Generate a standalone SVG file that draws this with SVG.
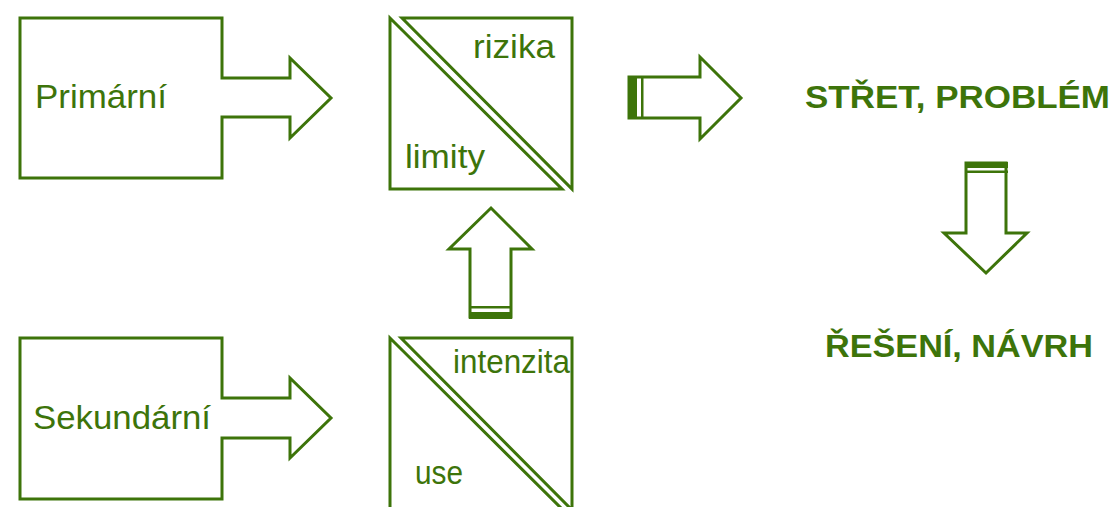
<svg xmlns="http://www.w3.org/2000/svg" width="1116" height="507" viewBox="0 0 1116 507">
<style>
.s{fill:#fff;stroke:#3d740a;stroke-width:3;stroke-linejoin:miter}
.t{font-family:"Liberation Sans",Arial,sans-serif;font-size:34px;fill:#3d740a}
.b{font-family:"Liberation Sans",Arial,sans-serif;font-size:32px;font-weight:bold;fill:#3d740a}
.f{fill:#3d740a}
</style>
<rect width="1116" height="507" fill="#fff"/>
<g id="primarni">
<path class="s" d="M20,18 H222 V78 H290 V58 L331,98 L290,138 V117 H222 V178 H20 Z"/>
<text class="t" x="35" y="108" textLength="132" lengthAdjust="spacingAndGlyphs">Primární</text>
</g>
<g id="sekundarni">
<path class="s" d="M20,338 H222 V398 H290 V378 L331,418 L290,458 V438 H222 V499 H20 Z"/>
<text class="t" x="33" y="429" textLength="178" lengthAdjust="spacingAndGlyphs">Sekundární</text>
</g>
<g id="rizika-limity">
<path class="s" d="M390,18 V189 H562 Z"/>
<path class="s" d="M402,18 H572 V189 Z"/>
<text class="t" x="473" y="58" textLength="82" lengthAdjust="spacingAndGlyphs">rizika</text>
<text class="t" x="405" y="168" textLength="80" lengthAdjust="spacingAndGlyphs">limity</text>
</g>
<g id="intenzita-use">
<path class="s" d="M390,338 V510 H563 Z"/>
<path class="s" d="M401,338 H572 V510 Z"/>
<text class="t" x="453" y="373" textLength="117" lengthAdjust="spacingAndGlyphs">intenzita</text>
<text class="t" x="415" y="484" textLength="48" lengthAdjust="spacingAndGlyphs">use</text>
</g>
<g id="stret">
<text class="b" x="805" y="108" textLength="305" lengthAdjust="spacingAndGlyphs">STŘET, PROBLÉM</text>
</g>
<g id="reseni">
<text class="b" x="825" y="357" textLength="268" lengthAdjust="spacingAndGlyphs">ŘEŠENÍ, NÁVRH</text>
</g>
<g id="connectors">
<g id="arrow-right">
<path class="s" d="M629,77 H700 V57 L741,98 L700,139 V118 H629 Z"/>
<rect class="f" x="628" y="76" width="9" height="43"/>
<rect class="f" x="641" y="76" width="2.5" height="43"/>
</g>
<g id="arrow-down">
<path class="s" d="M966,163 V233 H944 L986,273 L1027,233 H1006 V163 Z"/>
<rect class="f" x="965" y="162" width="43" height="6"/>
<rect class="f" x="965" y="170.5" width="43" height="2.5"/>
</g>
<g id="arrow-up">
<path class="s" d="M470,317 V249 H449 L491,208 L532,249 H511 V317 Z"/>
<rect class="f" x="469" y="312" width="43" height="7"/>
<rect class="f" x="469" y="306" width="43" height="2.5"/>
</g>
</g>
</svg>
